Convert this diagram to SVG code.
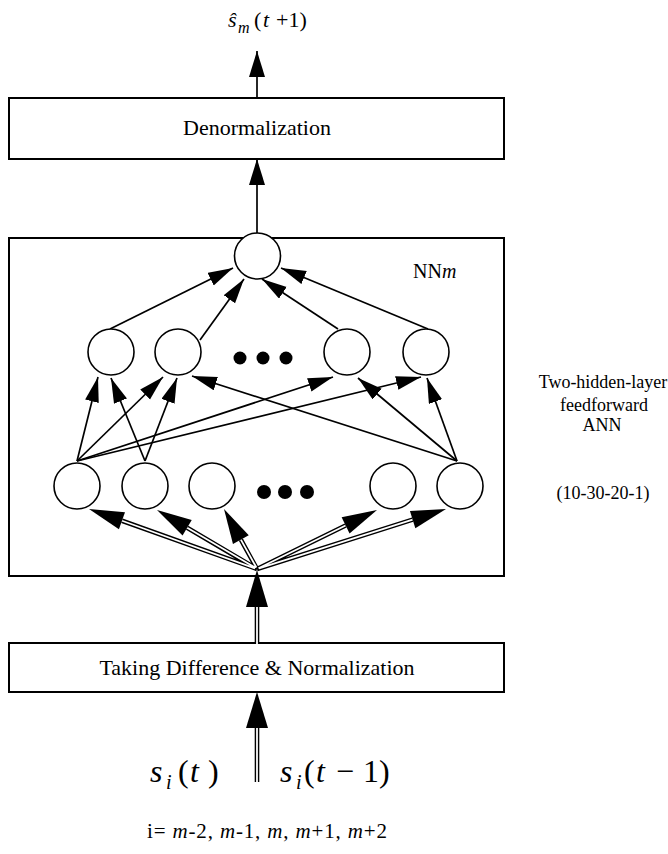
<svg xmlns="http://www.w3.org/2000/svg" width="668" height="854" viewBox="0 0 668 854">
<style>
.box{fill:#fff;stroke:#000;stroke-width:2}
.nd{fill:#fff;stroke:#000;stroke-width:1.6}
.dot{fill:#000}
.t{font-family:"Liberation Serif","Times New Roman",serif;fill:#000}
.ln{stroke:#000;stroke-width:1.7;fill:none}
.dbk{stroke:#000;stroke-width:4.6;fill:none}
.dwh{stroke:#fff;stroke-width:1.8;fill:none}
.hd{fill:#000;stroke:none}
.side{font-size:18px;text-anchor:middle}
</style>
<defs>
<marker id="ah" markerUnits="userSpaceOnUse" markerWidth="26" markerHeight="16" refX="25" refY="7" orient="auto"><path d="M0,0 L25,7 L0,14 z" fill="#000"/></marker>
<marker id="ahL" markerUnits="userSpaceOnUse" markerWidth="28" markerHeight="18" refX="26" refY="8" orient="auto"><path d="M0,0 L26,8 L0,16 z" fill="#000"/></marker>
</defs>
<rect width="668" height="854" fill="#fff"/>

<g id="nnbox"><rect class="box" x="9" y="238" width="495" height="338"/>
<text class="t" x="413" y="278" font-size="20">NN<tspan font-style="italic">m</tspan></text></g>

<g id="denorm"><rect class="box" x="9" y="98" width="495" height="61"/>
<text class="t" x="257" y="135" font-size="22" text-anchor="middle">Denormalization</text></g>

<g id="taking"><rect class="box" x="9" y="643" width="495" height="49"/>
<text class="t" x="257" y="675" font-size="22" text-anchor="middle">Taking Difference &amp; Normalization</text></g>

<g id="connectors">
<line class="ln" x1="257" y1="98" x2="257" y2="51" marker-end="url(#ahL)"/>
<line class="ln" x1="257" y1="233" x2="257" y2="159" marker-end="url(#ahL)"/>
<line class="ln" x1="110" y1="329" x2="233" y2="268" marker-end="url(#ah)"/>
<line class="ln" x1="200" y1="340" x2="244" y2="279" marker-end="url(#ah)"/>
<line class="ln" x1="338" y1="329" x2="262" y2="279" marker-end="url(#ah)"/>
<line class="ln" x1="428" y1="329" x2="281" y2="268" marker-end="url(#ah)"/>
<line class="ln" x1="77" y1="461" x2="98" y2="377" marker-end="url(#ah)"/>
<line class="ln" x1="145" y1="461" x2="111" y2="378" marker-end="url(#ah)"/>
<line class="ln" x1="77" y1="461" x2="163" y2="377" marker-end="url(#ah)"/>
<line class="ln" x1="145" y1="461" x2="177" y2="378" marker-end="url(#ah)"/>
<line class="ln" x1="457" y1="461" x2="192" y2="376" marker-end="url(#ah)"/>
<line class="ln" x1="77" y1="461" x2="333" y2="377" marker-end="url(#ah)"/>
<line class="ln" x1="457" y1="461" x2="358" y2="378" marker-end="url(#ah)"/>
<line class="ln" x1="77" y1="461" x2="421" y2="377" marker-end="url(#ah)"/>
<line class="ln" x1="457" y1="461" x2="427" y2="378" marker-end="url(#ah)"/>
<g id="fan">
<path class="dbk" d="M257,569 L121.96,520.77 M257,569 L187.15,527.79 M257,569 L240.86,539.66 M257,569 L345.59,525.45 M257,569 L412.64,519.59"/>
<path class="dwh" d="M255,568.3 L121.96,520.77 M255.5,567.8 L187.15,527.79 M256.4,567.5 L240.86,539.66 M258.5,568.2 L345.59,525.45 M259,568.4 L412.64,519.59"/>
<polygon class="hd" points="89,509 124.99,512.29 118.93,529.25"/>
<polygon class="hd" points="157,510 191.72,520.04 182.58,535.54"/>
<polygon class="hd" points="224,509 248.74,535.32 232.98,544"/>
<polygon class="hd" points="377,510 349.56,533.53 341.62,517.37"/>
<polygon class="hd" points="446,509 415.36,528.17 409.92,511.01"/>
</g>
<path class="dbk" d="M257,643 L257,606"/><path class="dwh" d="M257,644 L257,606"/>
<polygon class="hd" points="257,570 246,607 268,607"/>
<path class="dbk" d="M257,782 L257,727"/><path class="dwh" d="M257,782.5 L257,727"/>
<polygon class="hd" points="257,692 246,728 268,728"/>
</g>

<g id="out"><circle class="nd" cx="257.5" cy="256" r="23"/></g>
<g id="h1"><circle class="nd" cx="111" cy="352" r="23"/></g>
<g id="h2"><circle class="nd" cx="178" cy="352" r="23"/></g>
<g id="hdots"><circle class="dot" cx="240" cy="358" r="6.5"/><circle class="dot" cx="263" cy="358" r="6.5"/><circle class="dot" cx="286" cy="358" r="6.5"/></g>
<g id="h3"><circle class="nd" cx="347" cy="352" r="23"/></g>
<g id="h4"><circle class="nd" cx="426" cy="352" r="23"/></g>
<g id="in1"><circle class="nd" cx="77" cy="486" r="23"/></g>
<g id="in2"><circle class="nd" cx="145" cy="486" r="23"/></g>
<g id="in3"><circle class="nd" cx="212" cy="486" r="23"/></g>
<g id="idots"><circle class="dot" cx="264" cy="492" r="7"/><circle class="dot" cx="285" cy="492" r="7"/><circle class="dot" cx="307" cy="492" r="7"/></g>
<g id="in4"><circle class="nd" cx="393" cy="486" r="23"/></g>
<g id="in5"><circle class="nd" cx="460" cy="486" r="23"/></g>

<g id="output-label"><text class="t" font-size="22"><tspan x="228" y="27" font-style="italic">ŝ</tspan><tspan x="238" y="33" font-style="italic" font-size="16">m</tspan><tspan x="254" y="27">(</tspan><tspan x="263" y="27" font-style="italic">t</tspan><tspan x="276" y="27">+1)</tspan></text></g>

<g id="input-labels">
<text class="t" font-size="32"><tspan x="150" y="782" font-style="italic">s</tspan><tspan x="166" y="789" font-style="italic" font-size="20">i</tspan><tspan x="178" y="782">(</tspan><tspan x="190" y="782" font-style="italic">t</tspan><tspan x="208" y="782">)</tspan></text>
<text class="t" font-size="32"><tspan x="280" y="782" font-style="italic">s</tspan><tspan x="296" y="789" font-style="italic" font-size="20">i</tspan><tspan x="304" y="782">(</tspan><tspan x="316" y="782" font-style="italic">t</tspan><tspan x="336" y="782">−</tspan><tspan x="363" y="782">1)</tspan></text>
<text class="t" x="147" y="838" font-size="21" textLength="240" lengthAdjust="spacing">i= <tspan font-style="italic">m</tspan>-2, <tspan font-style="italic">m</tspan>-1, <tspan font-style="italic">m</tspan>, <tspan font-style="italic">m</tspan>+1, <tspan font-style="italic">m</tspan>+2</text>
</g>

<g id="side-labels">
<text class="t side" x="603" y="388">Two-hidden-layer</text>
<text class="t side" x="604" y="411">feedforward</text>
<text class="t side" x="602" y="431">ANN</text>
<text class="t side" x="603" y="499">(10-30-20-1)</text>
</g>
</svg>
